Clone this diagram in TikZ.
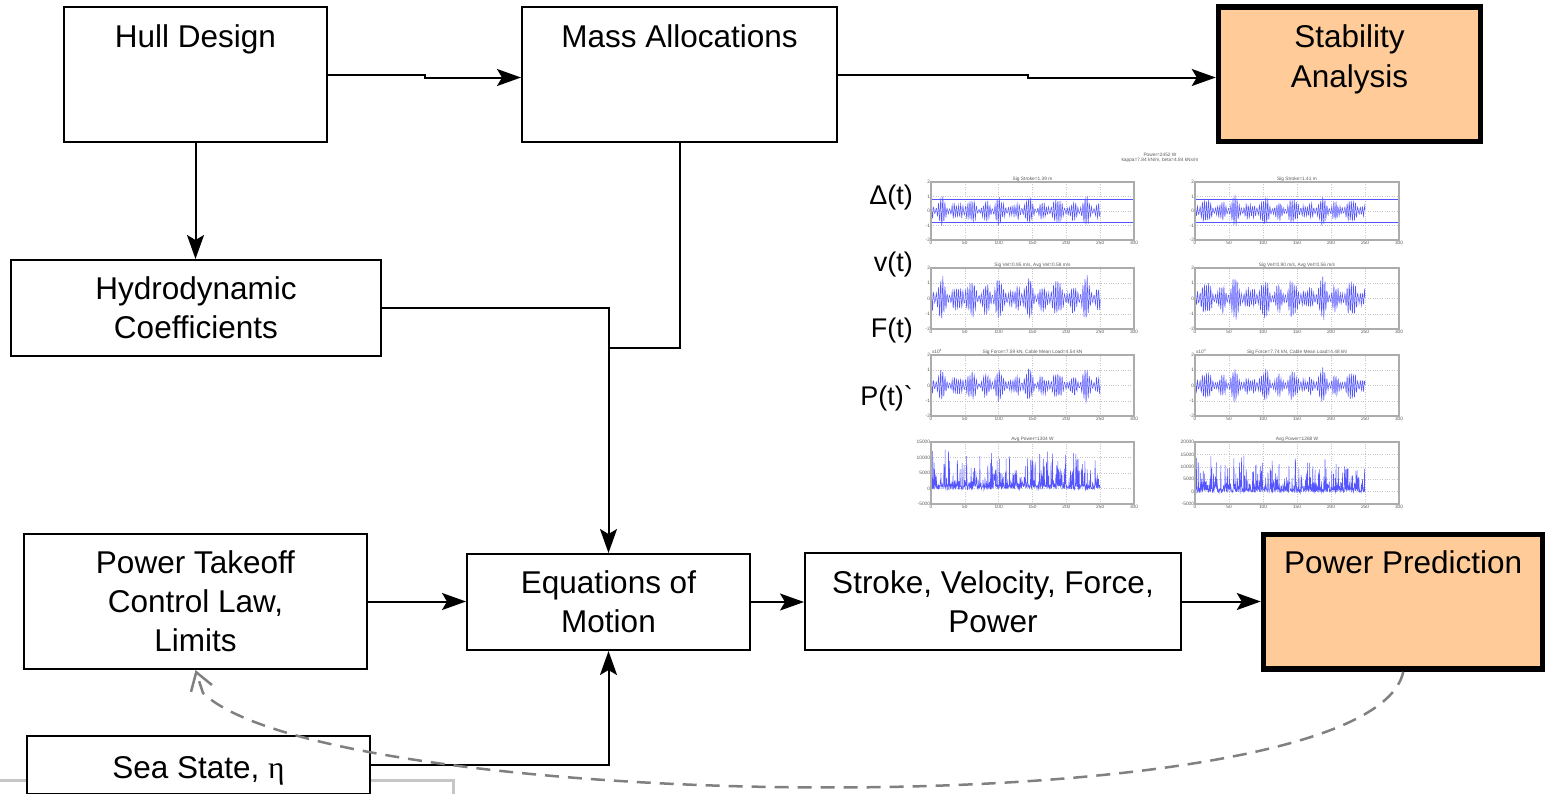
\documentclass[tikz,border=0pt]{standalone}
\usepackage{fontspec}
\setmainfont{Liberation Sans}
\newfontfamily\rawfont{Liberation Sans}
\newfontfamily\serifgr{Liberation Serif}
\usetikzlibrary{arrows.meta}
\definecolor{peach}{HTML}{FFCC99}
\definecolor{sigblue}{RGB}{85,85,255}
\newcommand\mainfs{\fontsize{31.5}{39}\selectfont}
\newcommand\sidefs{\fontsize{27}{32}\selectfont}
% #1 x0, #2 ytop, #3 w, #4 h, #5 ymin, #6 ymax, #7 yticks v/l, #8 title, #9 content
\newcommand\axes[9]{%
  \pgfmathsetmacro\axw{#3/300}%
  \pgfmathsetmacro\axh{#4/((#6)-(#5))}%
  \pgfmathsetmacro\axb{#2+#4}%
  \begin{scope}[shift={(#1pt,-\axb pt)}, x=\axw pt, y=\axh pt, shift={(0,{-(#5)})}]
    \foreach \t in {50,100,...,250} \draw[axgrid] (\t,#5) -- (\t,#6);
    \foreach \v/\l in {#7} {
      \draw[axgrid] (0,\v) -- (300,\v);
      \node[ticklab, anchor=east] (yt) at (0,\v) {\l};
    }
    \foreach \t in {0,50,...,300} \node[ticklab, anchor=north] (xt) at (\t,#5) {\t};
    \node[ticklab, anchor=south] (ttl) at (150,#6) {#8};
    #9
    \draw[axframe] (0,#5) rectangle (300,#6);
  \end{scope}
}
\begin{document}
\begin{tikzpicture}[x=1pt,y=-1pt,
  box/.style={draw=black, line width=2pt, fill=white, inner sep=0pt, align=center, font=\mainfs},
  hibox/.style={box, line width=5.5pt, fill=peach},
  lbl/.style={inner sep=0pt, font=\mainfs},
  side/.style={inner sep=0pt, font=\sidefs, anchor=east},
  conn/.style={line width=2pt, -{Stealth[length=24pt,width=17pt,inset=5pt]}},
  plainline/.style={line width=2pt},
  fb/.style={draw=gray, line width=2.5pt, dash pattern=on 14pt off 9pt,
     -{Straight Barb[length=17pt,width=22pt,line width=2.5pt]}},
  axframe/.style={draw=gray!65, line width=1.6pt},
  axgrid/.style={draw=gray!45, line width=0.4pt, dotted},
  ticklab/.style={font=\fontsize{4.8}{5.5}\selectfont, text=gray!70!black, inner sep=0.8pt},
  sig/.style={draw=sigblue, line width=0.5pt},
  declare function={
    envl(\x)=0.3+0.12*sin(360*frac(\x*0.023))+0.1*sin(360*frac(\x*0.061+0.3))+0.2*rnd;
    osc(\x,\f)=sin(360*frac(\x*\f))+0.6*sin(360*frac(\x*(\f+0.047)+0.2));
  }
]
\useasboundingbox (0,0) rectangle (1545,793);

% grey frame at the bottom left
\draw[gray!45, line width=3pt] (-5,780) -- (453,780) -- (453,800);

% boxes
\node[box, minimum width=263pt, minimum height=135pt] (hull) at (195.5,74.5) {};
\node[lbl, anchor=base] (hullt) at (195.5,47) {Hull Design};
\node[box, minimum width=315pt, minimum height=135pt] (mass) at (679.5,74.5) {};
\node[lbl, anchor=base] (masst) at (679.5,47) {Mass Allocations};
\node[hibox, minimum width=262pt, minimum height=134.5pt] (stab) at (1349.5,74.25) {};
\node[lbl, anchor=base] (stabt1) at (1349.5,47) {Stability};
\node[lbl, anchor=base] (stabt2) at (1349.5,87) {Analysis};
\node[box, minimum width=370pt, minimum height=96pt] (hydro) at (196,308) {Hydrodynamic\\Coefficients};
\node[box, minimum width=343pt, minimum height=135pt] (pto) at (195.5,601.5) {Power Takeoff\\Control Law,\\Limits};
\node[box, minimum width=283pt, minimum height=96pt] (eom) at (608.5,602) {Equations of\\Motion};
\node[box, minimum width=376pt, minimum height=97pt] (stroke) at (993,601.5) {Stroke, Velocity, Force,\\Power};
\node[hibox, minimum width=279.5pt, minimum height=134.5pt] (pp) at (1403.25,601.75) {};
\node[lbl, anchor=base] (ppt) at (1403.25,573) {Power Prediction};
\node[box, minimum width=343pt, minimum height=58pt] (sea) at (198.5,765) {};
\node[lbl, anchor=base] (seat) at (198.5,778) {Sea State, {\serifgr η}};

% connectors
\coordinate (j1) at (425,77.5);
\coordinate (j2) at (1028,77.5);
\coordinate (mj) at (608.5,348);
\draw[conn] (hull.east) -| (j1) -- (j1 -| mass.west);
\draw[conn] (mass.east) -| (j2) -- (j2 -| stab.west);
\draw[conn] (hull.south) -- (hull.south |- hydro.north);
\draw[conn] (hydro.east) -| (eom.north);
\draw[plainline] (mass.south) |- (mj);
\draw[conn] (pto.east) -- (pto.east -| eom.west);
\draw[conn] (eom.east) -- (eom.east -| stroke.west);
\draw[conn] (stroke.east) -- (stroke.east -| pp.west);
\draw[conn] (sea.east) -| (eom.south);
\coordinate (fbk) at (203,693);
\draw[fb] (pp.south) .. controls (1370,830) and (330,815) .. (fbk) -- (pto.south);

% side labels
\node[side] (lD) at (913,198) {Δ(t)};
\node[side] (lv) at (913,265) {v(t)};
\node[side] (lF) at (913,331) {F(t)};
\node[side] (lP) at (913,398) {\rawfont P(t)`};

% plots
\pgfmathsetseed{42}
\node[ticklab, align=center] (suptitle) at (1160,158) {Power=2452 W\\kappa=7.84 kN/m, beta=4.84 kNs/m};
\axes{931}{182}{203}{58}{-2}{2}{-2/-2,-1/-1,0/0,1/1,2/2}{Sig Stroke=1.39 m}{
  \draw[sig] (0,0.78) -- (300,0.78) (0,-0.78) -- (300,-0.78);
  \draw[sig] plot[domain=0:250, samples=600] (\x,{envl(\x)*osc(\x,0.3)});
}
\axes{1195}{182}{204}{58}{-2}{2}{-2/-2,-1/-1,0/0,1/1,2/2}{Sig Stroke=1.41 m}{
  \draw[sig] (0,0.78) -- (300,0.78) (0,-0.78) -- (300,-0.78);
  \draw[sig] plot[domain=0:250, samples=600] (\x,{envl(\x+40)*osc(\x,0.31)});
}
\axes{931}{268}{203}{61}{-2}{2}{-2/-2,-1/-1,0/0,1/1,2/2}{Sig Vel=0.95 m/s, Avg Vel=0.58 m/s}{
  \draw[sig] plot[domain=0:250, samples=600] (\x,{1.45*envl(\x)*osc(\x,0.3)});
}
\axes{1195}{268}{204}{61}{-2}{2}{-2/-2,-1/-1,0/0,1/1,2/2}{Sig Vel=0.90 m/s, Avg Vel=0.56 m/s}{
  \draw[sig] plot[domain=0:250, samples=600] (\x,{1.4*envl(\x+40)*osc(\x,0.31)});
}
\axes{931}{355}{203}{61}{-2}{2}{-2/-2,-1/-1,0/0,1/1,2/2}{Sig Force=7.59 kN, Cable Mean Load=4.54 kN}{
  \node[ticklab, anchor=south west] (e4a) at (0,2) {x10\textsuperscript{4}};
  \draw[sig] plot[domain=0:250, samples=600] (\x,{1.1*envl(\x)*osc(\x,0.3)});
}
\axes{1195}{355}{204}{61}{-2}{2}{-2/-2,-1/-1,0/0,1/1,2/2}{Sig Force=7.74 kN, Cable Mean Load=4.48 kN}{
  \node[ticklab, anchor=south west] (e4b) at (0,2) {x10\textsuperscript{4}};
  \draw[sig] plot[domain=0:250, samples=600] (\x,{1.1*envl(\x+40)*osc(\x,0.31)});
}
\axes{931}{442}{203}{62}{-5}{15}{-5/-5000,0/0,5/5000,10/10000,15/15000}{Avg Power=1304 W}{
  \draw[sig] plot[domain=0:250, samples=600] (\x,{13*pow(rnd,4)*abs(sin(360*frac(\x*0.3)))+1.4*rnd-0.4});
}
\axes{1195}{442}{204}{62}{-5}{20}{-5/-5000,0/0,5/5000,10/10000,15/15000,20/20000}{Avg Power=1268 W}{
  \draw[sig] plot[domain=0:250, samples=600] (\x,{14*pow(rnd,4)*abs(sin(360*frac(\x*0.31)))+1.4*rnd-0.4});
}
\end{tikzpicture}
\end{document}
